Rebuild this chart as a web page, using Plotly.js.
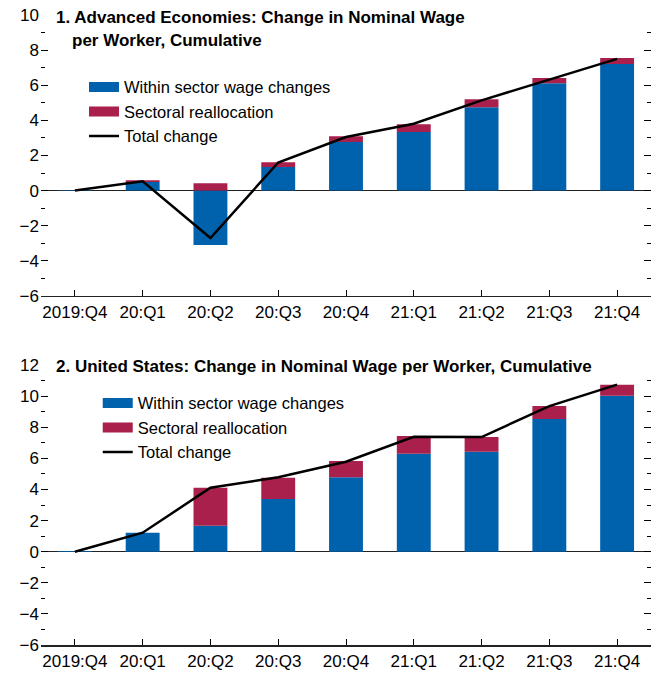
<!DOCTYPE html>
<html>
<head>
<meta charset="utf-8">
<script src="https://cdn.plot.ly/plotly-3.0.1.min.js"></script>
<style>html,body{margin:0;padding:0;background:#fff;}#chart{width:656px;height:673px;}</style>
</head>
<body>
<div id="chart"></div>
<script>
var quarters = ["2019:Q4","20:Q1","20:Q2","20:Q3","20:Q4","21:Q1","21:Q2","21:Q3","21:Q4"];

// Panel 1: Advanced Economies
var aeWithin = [0.03, 0.49, -3.1, 1.34, 2.77, 3.34, 4.74, 6.11, 7.21];
var aeRealloc = [0.0, 0.1, 0.42, 0.27, 0.32, 0.44, 0.46, 0.30, 0.34];
var aeTotal = [0.0, 0.53, -2.7, 1.6, 3.05, 3.81, 5.14, 6.34, 7.5];

// Panel 2: United States
var usWithin = [0.05, 1.22, 1.67, 3.39, 4.78, 6.3, 6.43, 8.53, 10.03];
var usRealloc = [0.0, 0.0, 2.44, 1.37, 1.05, 1.14, 0.94, 0.83, 0.71];
var usTotal = [0.0, 1.22, 4.11, 4.78, 5.78, 7.39, 7.37, 9.36, 10.74];

var titles1 = ["1. Advanced Economies: Change in Nominal Wage", "per Worker, Cumulative"];
var title2 = "2. United States: Change in Nominal Wage per Worker, Cumulative";
var legendNames = ["Within sector wage changes", "Sectoral reallocation", "Total change"];

var BLUE = "#0061ad", RED = "#a8204b", BLACK = "#000000";
var FONT = "Liberation Sans, Arial, sans-serif";

function panelTraces(within, realloc, total, xa, ya, leg) {
  return [
    {type:"bar", x:quarters, y:within, xaxis:xa, yaxis:ya, marker:{color:BLUE, line:{width:0}}, width:0.5, showlegend:false, hoverinfo:"skip"},
    {type:"bar", x:quarters, y:realloc, xaxis:xa, yaxis:ya, marker:{color:RED, line:{width:0}}, width:0.5, showlegend:false, hoverinfo:"skip"},
    {type:"scatter", mode:"lines", x:[null], y:[null], xaxis:xa, yaxis:ya, name:legendNames[0], line:{color:BLUE, width:10}, legend:leg},
    {type:"scatter", mode:"lines", x:[null], y:[null], xaxis:xa, yaxis:ya, name:legendNames[1], line:{color:RED, width:10}, legend:leg},
    {type:"scatter", mode:"lines", x:quarters, y:total, xaxis:xa, yaxis:ya, name:legendNames[2], line:{color:BLACK, width:2.5}, legend:leg}
  ];
}

var data = panelTraces(aeWithin, aeRealloc, aeTotal, "x", "y", "legend")
  .concat(panelTraces(usWithin, usRealloc, usTotal, "x2", "y2", "legend2"));

function yAxis(range, domain, anchor) {
  return {
    domain: domain, anchor: anchor, range: range, dtick: 2, tick0: 0,
    ticks: "inside", ticklen: 7, tickwidth: 1, tickcolor: "#000",
    minor: {dtick: 1, ticks: "inside", ticklen: 4, tickcolor: "#000", tickwidth: 1, showgrid:false},
    mirror: "ticks", showline: false, showgrid: false,
    zeroline: true, zerolinecolor: "#222", zerolinewidth: 1.2,
    tickfont: {family: FONT, size: 17, color: "#000"},
    ticklabelstandoff: 1, fixedrange: true
  };
}
function xAxis(anchor) {
  return {
    anchor: anchor, domain: [0, 1], type: "category", range: [-0.5, 8.5],
    ticks: "inside", ticklen: 6, tickwidth: 1, tickcolor: "#000",
    showline: true, linecolor: "#222", linewidth: 1.5, showgrid: false, zeroline: false,
    tickfont: {family: FONT, size: 17, color: "#000"}, fixedrange: true
  };
}

var layout = {
  width: 656, height: 673,
  margin: {l: 41, r: 5, t: 15, b: 28},
  paper_bgcolor: "#fff", plot_bgcolor: "#fff",
  barmode: "relative", bargap: 0.5,
  font: {family: FONT, size: 17, color: "#000"},
  xaxis: xAxis("y"),
  yaxis: yAxis([-6, 10], [0.554, 1], "x"),
  xaxis2: xAxis("y2"),
  yaxis2: yAxis([-6, 12], [0, 0.4444], "x2"),
  legend: {x: 0.0705, y: 0.913, xanchor: "left", yanchor: "top", bgcolor: "rgba(0,0,0,0)", font: {family: FONT, size: 16.5, color: "#000"}, tracegroupgap: 0, itemwidth: 30},
  legend2: {x: 0.093, y: 0.4115, xanchor: "left", yanchor: "top", bgcolor: "rgba(0,0,0,0)", font: {family: FONT, size: 16.5, color: "#000"}, tracegroupgap: 0, itemwidth: 30},
  annotations: [
    {text: "<b>" + titles1[0] + "</b>", xref: "paper", yref: "paper", x: 0.0213, y: 0.9968, xanchor: "left", yanchor: "middle", showarrow: false, font: {family: FONT, size: 17, color: "#000"}},
    {text: "<b>" + titles1[1] + "</b>", xref: "paper", yref: "paper", x: 0.0475, y: 0.9603, xanchor: "left", yanchor: "middle", showarrow: false, font: {family: FONT, size: 17, color: "#000"}},
    {text: "<b>" + title2 + "</b>", xref: "paper", yref: "paper", x: 0.0213, y: 0.442, xanchor: "left", yanchor: "middle", showarrow: false, font: {family: FONT, size: 17, color: "#000"}}
  ]
};

Plotly.newPlot("chart", data, layout, {displayModeBar: false, staticPlot: true});
</script>
</body>
</html>
